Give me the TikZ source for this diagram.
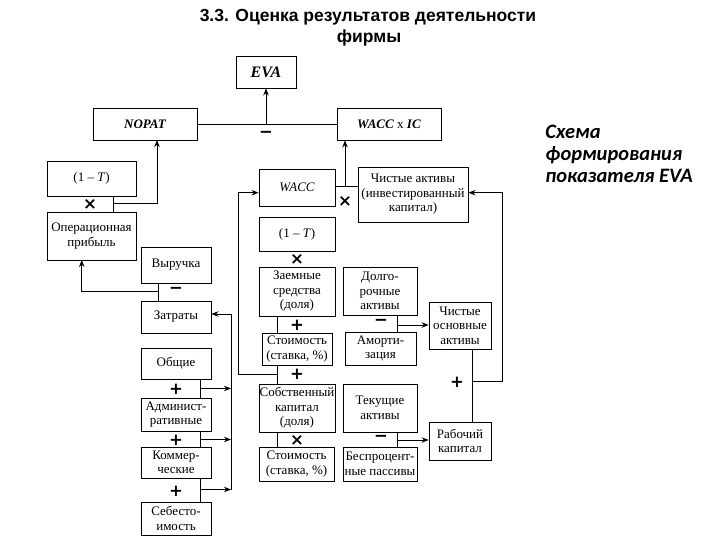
\documentclass[tikz,border=0pt]{standalone}
\usepackage{fontspec}
\setmainfont{Liberation Serif}
\newfontfamily\titlefont{Liberation Sans}
\newfontfamily\calfont{Carlito}
\newfontfamily\signfont{DejaVu Sans}
\usetikzlibrary{arrows.meta,calc}
\begin{document}
\begin{tikzpicture}[x=1pt,y=-1pt, line width=0.9pt,
  >={Stealth[length=7pt,width=5.5pt]},
  box/.style={draw, align=center, inner sep=0.5pt, font=\fontsize{13}{14.5}\selectfont},
  sign/.style={font=\signfont\bfseries\fontsize{16.5}{16.5}\selectfont, inner sep=0pt},
  ttl/.style={font=\titlefont\bfseries\fontsize{17.5}{19}\selectfont, inner sep=0pt, anchor=base},
  side/.style={font=\calfont\bfseries\itshape\fontsize{20.5}{22}\selectfont, inner sep=0pt, anchor=base west}]
\useasboundingbox (0,0) rectangle (720,540);

% title
\node[ttl] (t1) at (368,22) {3.3. Оценка результатов деятельности};
\node[ttl] (t2) at (369,43) {фирмы};
% side caption
\node[side] (s1) at (545,139) {Схема};
\node[side] (s2) at (545,161) {формирования};
\node[side] (s3) at (545,183) {показателя EVA};

% boxes
\node[box, minimum width=60pt, minimum height=32pt] (eva) at (266,72) {\fontsize{16}{16}\selectfont\bfseries\itshape EVA};
\node[box, minimum width=104pt, minimum height=32pt] (nopat) at (145,124) {\bfseries\itshape NOPAT};
\node[box, minimum width=104pt, minimum height=32pt] (waccic) at (389,124) {\textbf{\textit{WACC}} x \textbf{\textit{IC}}};
\node[box, minimum width=89pt, minimum height=35pt] (onet1) at (91.5,178.5) {(1 – \textit{T})};
\node[box, minimum width=89pt, minimum height=48pt] (opp) at (91.5,236) {Операционная\\прибыль};
\node[box, minimum width=76pt, minimum height=37pt] (wacc) at (297,187.5) {\itshape WACC};
\node[box, minimum width=110pt, minimum height=55pt] (neta) at (413,194.5) {Чистые активы\\(инвестированный\\капитал)};
\node[box, minimum width=76pt, minimum height=34pt] (onet2) at (297,234) {(1 – \textit{T})};
\node[box, minimum width=76pt, minimum height=49pt] (debt) at (297,291.5) {Заемные\\средства\\(доля)};
\node[box, minimum width=70pt, minimum height=32pt] (cost1) at (297,349) {Стоимость\\(ставка, \%)};
\node[box, minimum width=76pt, minimum height=48pt] (equity) at (297,408) {Собственный\\капитал\\(доля)};
\node[box, minimum width=75pt, minimum height=34pt] (cost2) at (296.5,464) {Стоимость\\(ставка, \%)};
\node[box, minimum width=74pt, minimum height=48pt] (longa) at (380,291) {Долго-\\рочные\\активы};
\node[box, minimum width=71pt, minimum height=33pt] (amort) at (380.5,348.5) {Аморти-\\зация};
\node[box, minimum width=62pt, minimum height=47pt] (netfix) at (460,325.5) {Чистые\\основные\\активы};
\node[box, minimum width=74pt, minimum height=48pt] (cura) at (380,408) {Текущие\\активы};
\node[box, minimum width=74pt, minimum height=34pt] (nonint) at (380,464) {Беспроцент-\\ные пассивы};
\node[box, minimum width=62pt, minimum height=38pt] (workc) at (460,441) {Рабочий\\капитал};
\node[box, minimum width=70pt, minimum height=36pt] (rev) at (176,265) {Выручка};
\node[box, minimum width=70pt, minimum height=32pt] (costs) at (176,317) {Затраты};
\node[box, minimum width=70pt, minimum height=31pt] (gen) at (176,363.5) {Общие};
\node[box, minimum width=70pt, minimum height=33pt] (adm) at (176,414.5) {Админист-\\ративные};
\node[box, minimum width=70pt, minimum height=31pt] (com) at (176,462.5) {Коммер-\\ческие};
\node[box, minimum width=70pt, minimum height=33pt] (cogs) at (176,518.5) {Себесто-\\имость};

% signs
\node[sign] (m1) at (266,134) {−};
\node[sign] (x1) at (90,204) {×};
\node[sign] (x2) at (345,201) {×};
\node[sign] (x3) at (297,259) {×};
\node[sign] (p1) at (297,325) {+};
\node[sign] (p2) at (297,374) {+};
\node[sign] (x4) at (297,440) {×};
\node[sign] (m2) at (381,322) {−};
\node[sign] (m3) at (381,438) {−};
\node[sign] (p3) at (457,382) {+};
\node[sign] (m4) at (176,290) {−};
\node[sign] (p4) at (176,389) {+};
\node[sign] (p5) at (176,440) {+};
\node[sign] (p6) at (176,491) {+};

% junction coordinates
\coordinate (jA) at (266,124);
\coordinate (jB) at (113,203.5);
\coordinate (jC) at (157,140);
\coordinate (jD) at (158.5,291.7);
\coordinate (jE) at (81.7,260);
\coordinate (jF) at (345,186.7);
\coordinate (jG) at (277,374.3);
\coordinate (jH) at (238,192.7);
\coordinate (jI) at (200,388.5);
\coordinate (jJ) at (200,439.5);
\coordinate (jK) at (200,489.5);
\coordinate (jL) at (231,314);
\coordinate (jM) at (397.7,325);
\coordinate (jN) at (397.7,440);
\coordinate (jO) at (472,381.7);
\coordinate (jP) at (502,192.7);

% connectors
\draw (nopat.east) -- (waccic.west);
\draw[->] (jA) -- (eva.south);
\draw (onet1.south -| jB) -- (opp.north -| jB);
\draw[->] (jB) -| (jC);
\draw (rev.south -| jD) -- (costs.north -| jD);
\draw[->] (jD) -| (jE);
\draw (wacc.east |- jF) -- (neta.west |- jF);
\draw[->] (jF) -- (waccic.south -| jF);
\draw (debt.south -| jG) -- (cost1.north -| jG);
\draw (cost1.south -| jG) -- (equity.north -| jG);
\draw (equity.south -| jG) -- (cost2.north -| jG);
\draw[->] (jG) -| (jH) -- (wacc.west |- jH);
\draw (gen.south -| jI) -- (adm.north -| jI);
\draw (adm.south -| jJ) -- (com.north -| jJ);
\draw (com.south -| jK) -- (cogs.north -| jK);
\draw[->] (jI) -- (jI -| jL);
\draw[->] (jJ) -- (jJ -| jL);
\draw[->] (jK) -- (jK -| jL);
\draw[->] (jK -| jL) -- (jL) -- (costs.east |- jL);
\draw (longa.south -| jM) -- (amort.north -| jM);
\draw[->] (jM) -- (netfix.west |- jM);
\draw (cura.south -| jN) -- (nonint.north -| jN);
\draw[->] (jN) -- (workc.west |- jN);
\draw (netfix.south -| jO) -- (workc.north -| jO);
\draw[->] (jO) -| (jP) -- (neta.east |- jP);
\end{tikzpicture}
\end{document}
